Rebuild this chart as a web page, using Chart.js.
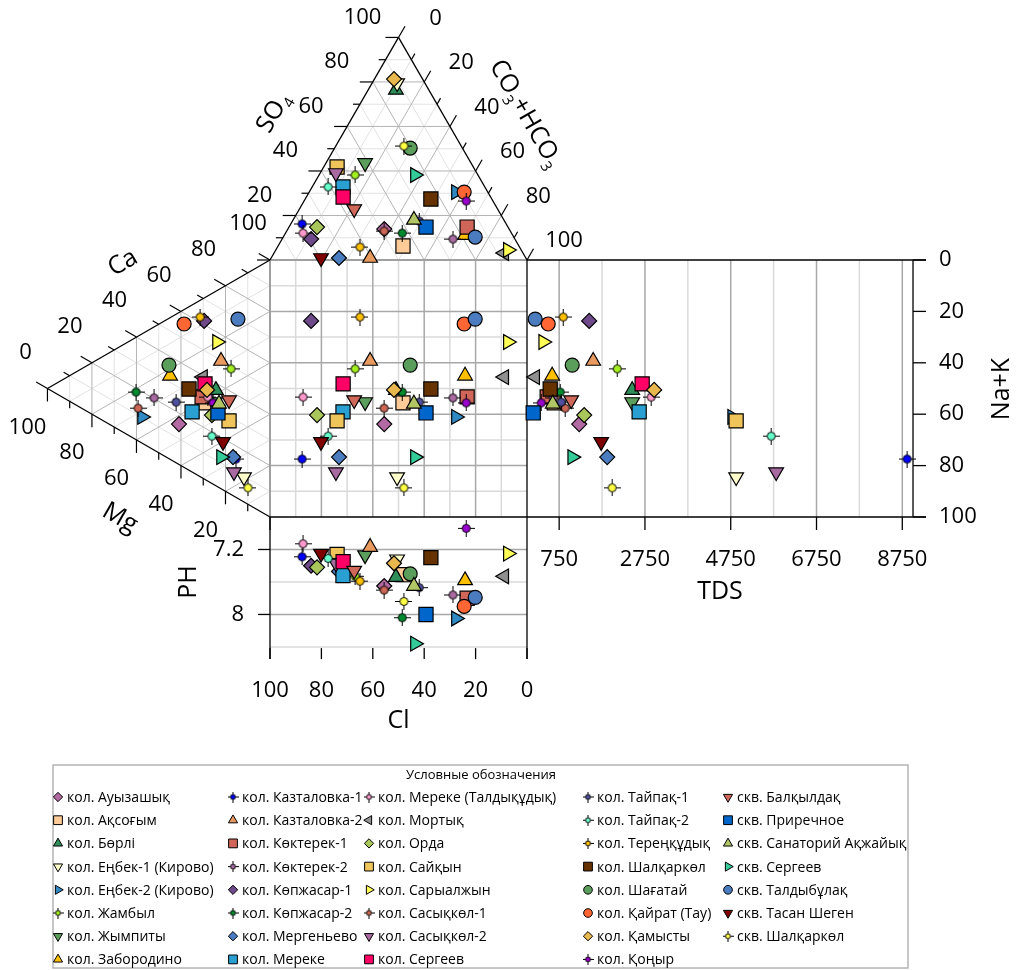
<!DOCTYPE html>
<html>
<head>
<meta charset="utf-8">
<script src="https://cdn.jsdelivr.net/npm/chart.js@4"></script>
<style>
  html, body { margin: 0; padding: 0; background: #fff; }
  canvas { display: block; }
</style>
</head>
<body>
<canvas id="durov" width="1020" height="970"></canvas>
<script>
// sampling points (legend order, column by column)
const names = [
  'кол. Ауызашық', 'кол. Ақсоғым', 'кол. Бөрлі', 'кол. Еңбек-1 (Кирово)', 'кол. Еңбек-2 (Кирово)',
  'кол. Жамбыл', 'кол. Жымпиты', 'кол. Заборoдино',
  'кол. Казталовка-1', 'кол. Казталовка-2', 'кол. Көктерек-1', 'кол. Көктерек-2', 'кол. Көпжасар-1',
  'кол. Көпжасар-2', 'кол. Мергеньево', 'кол. Мереке',
  'кол. Мереке (Талдықұдық)', 'кол. Мортық', 'кол. Орда', 'кол. Сайқын', 'кол. Сарыалжын',
  'кол. Сасықкөл-1', 'кол. Сасықкөл-2', 'кол. Сергеев',
  'кол. Тайпақ-1', 'кол. Тайпақ-2', 'кол. Тереңқұдық', 'кол. Шалқаркөл', 'кол. Шағатай',
  'кол. Қайрат (Тау)', 'кол. Қамысты', 'кол. Қоңыр',
  'скв. Балқылдақ', 'скв. Приречное', 'скв. Санаторий Ақжайық', 'скв. Сергеев', 'скв. Талдыбұлақ',
  'скв. Тасан Шеген', 'скв. Шалқаркөл'
];
// anions, % (Cl = 100 - SO4 - HCO3)
const so4 = [13.9, 6.3, 76.4, 79.5, 30.5, 38.2, 43.6, 11.2, 16.2, 0.9, 14.8, 9.4, 9.4, 12.1, 0.9, 32.8,
  12.1, 3.1, 14.8, 41.8, 4.5, 13.0, 39.1, 28.3, 17.5, 32.8, 5.8, 27.4, 50.3, 30.5, 81.3, 26.5,
  22.9, 14.8, 18.0, 38.2, 10.3, 0.9, 51.2];
const hco3 = [37.5, 48.6, 10.8, 9.7, 57.1, 14.0, 15.2, 70.3, 4.4, 38.5, 69.3, 66.5, 11.3, 45.4, 26.4, 12.0,
  6.8, 89.6, 10.9, 5.2, 90.3, 37.9, 6.1, 14.3, 49.3, 6.2, 32.1, 48.9, 29.4, 60.3, 7.6, 63.1,
  21.3, 53.3, 47.0, 37.3, 74.7, 19.4, 26.5];
// cations, % (Na+K = 100 - Ca - Mg)
const ca = [15.7, 29.8, 37.2, 9.7, 10.2, 48.9, 32.4, 32.5, 14.9, 49.7, 31.5, 20.3, 61.5, 18.5, 15.0, 23.4,
  32.7, 39.4, 26.6, 28.2, 56.2, 12.7, 9.4, 37.2, 23.6, 18.4, 62.1, 31.6, 36.4, 55.8, 35.3, 31.6,
  36.3, 28.8, 32.6, 12.3, 69.8, 18.7, 6.4];
const mg = [40.9, 29.2, 24.3, 11.7, 57.5, 17.5, 24.7, 44.9, 15.3, 22.0, 30.5, 52.1, 29.6, 60.2, 16.6, 35.0,
  27.9, 30.1, 26.1, 18.4, 23.8, 59.3, 16.2, 29.2, 42.2, 26.1, 31.4, 36.4, 45.4, 38.6, 28.3, 25.6,
  18.4, 23.4, 22.9, 22.0, 14.4, 21.1, 9.9];
const tds = [1217, 634, 2452, 4876, 4783, 2103, 2452, 587, 8862, 1543, 471, 611, 1450, 774, 1870, 2615,
  2895, 191, 1333, 4876, 378, 890, 5809, 2685, 797, 5692, 844, 541, 1054, 494, 2965, 331,
  1030, 145, 600, 1054, 191, 1730, 1986];
const ph = [7.65, 7.51, 7.54, 7.32, 8.05, 7.53, 7.27, 7.58, 7.29, 7.17, 7.80, 7.76, 7.40, 8.04, 7.47, 7.52,
  7.13, 7.53, 7.42, 7.26, 7.25, 7.70, 7.37, 7.35, 7.67, 7.31, 7.59, 7.30, 7.50, 7.90, 7.37, 6.94,
  7.46, 8.00, 7.65, 8.36, 7.79, 7.25, 7.84];

// tick labels
const clTicks = [100, 80, 60, 40, 20, 0];
const nakTicks = [0, 20, 40, 60, 80, 100];
const tdsTicks = [750, 2750, 4750, 6750, 8750];
const phTicks = [7.2, 8];
const so4Ticks = [20, 40, 60, 80, 100];
const co3Ticks = [0, 20, 40, 60, 80, 100];
const caTicks = [0, 20, 40, 60, 80, 100];
const mgTicks = [100, 80, 60, 40, 20];

// marker look
const kinds = ['diamond', 'square', 'triUp', 'triDown', 'triRight', 'cross', 'triDown', 'triUp',
  'cross', 'triUp', 'square', 'cross', 'diamond', 'cross', 'diamond', 'square',
  'cross', 'triLeft', 'diamond', 'square', 'triRight', 'cross', 'triDown', 'square',
  'cross', 'cross', 'cross', 'square', 'circle', 'circle', 'diamond', 'cross',
  'triDown', 'square', 'triUp', 'triRight', 'circle', 'triDown', 'cross'];
const colors = ['#B36AA3', '#FFCC99', '#2F8F5B', '#FFFFCC', '#2F8AC4', '#A4F01E', '#5C9E5C', '#FFC000',
  '#0000FF', '#E99A5E', '#D0665A', '#A86AA0', '#6E4A8A', '#008A2E', '#4A7CC0', '#2AA0D2',
  '#FF99CC', '#909090', '#A9C65A', '#EFC45A', '#FFFF55', '#CC6655', '#A86AA0', '#FF0066',
  '#5050A0', '#66FFCC', '#FFC000', '#663300', '#5B9E5B', '#FF6633', '#E8B84F', '#9900CC',
  '#D0685A', '#0066CC', '#B3C665', '#33CC99', '#4A7CBF', '#800000', '#FFFF44'];

const FONT = '"Open Sans", "Noto Sans", sans-serif';
// page layout: the Cl / Na+K square sits at (270,260), 257 px a side
const CW = 1020, CH = 970, SQ_L = 270, SQ_T = 260, SQ = 257;
const U = SQ / 100;                   // px per square unit
const H = 86.6;                       // triangle height, in square units
const TDS_MAX = 9000, TDS_W = 150.2;  // TDS panel width, square units
const PH_MIN = 6.8, PH_MAX = 8.55, PH_K = 31.6;

function topXY(s, h) { const c = 100 - s - h; return { x: c + s / 2, y: -s * H / 100 }; }
function leftXY(a, m) { const n = 100 - a - m; return { x: 100 + m * H / 100, y: n + m / 2 }; }
function tdsX(t) { return -t / TDS_MAX * TDS_W; }
function phY(p) { return 100 + (p - PH_MIN) * PH_K; }

function crossIcon(color, r, arm) {
  const c = document.createElement('canvas');
  const s = arm * 2 + 1;
  c.width = s; c.height = s;
  const g = c.getContext('2d');
  const m = s / 2;
  g.strokeStyle = '#000'; g.lineWidth = 1;
  g.beginPath(); g.moveTo(0, m); g.lineTo(s, m); g.moveTo(m, 0); g.lineTo(m, s); g.stroke();
  g.beginPath(); g.arc(m, m, r, 0, Math.PI * 2);
  g.fillStyle = color; g.fill(); g.stroke();
  return c;
}

function markerStyle(kind, color, k) {
  if (kind === 'cross') return { pointStyle: crossIcon(color, 4 * k, Math.round(8 * k)), radius: 5, rotation: 0 };
  const base = {
    diamond: ['rectRot', 7.5, 0], square: ['rect', 10, 0], circle: ['circle', 7, 0],
    triUp: ['triangle', 8.5, 0], triDown: ['triangle', 8.5, 180],
    triRight: ['triangle', 8.5, 90], triLeft: ['triangle', 8.5, 270]
  }[kind];
  return { pointStyle: base[0], radius: base[1] * k, rotation: base[2] };
}

const datasets = names.map((name, i) => {
  const cl = 100 - so4[i] - hco3[i];
  const nak = 100 - ca[i] - mg[i];
  const sx = cl + so4[i] / 2, sy = nak + mg[i] / 2;
  const st = markerStyle(kinds[i], colors[i], 1);
  return {
    label: name,
    data: [topXY(so4[i], hco3[i]), leftXY(ca[i], mg[i]), { x: sx, y: sy }, { x: tdsX(tds[i]), y: sy }, { x: sx, y: phY(ph[i]) }],
    pointStyle: st.pointStyle,
    pointRadius: st.radius,
    pointRotation: st.rotation,
    pointBackgroundColor: colors[i],
    pointBorderColor: '#000',
    pointBorderWidth: 1.2,
    showLine: false,
    clip: false,
    order: -i
  };
});

function seg(ctx, a, b, color, w) {
  ctx.beginPath(); ctx.strokeStyle = color; ctx.lineWidth = w;
  ctx.moveTo(a[0], a[1]); ctx.lineTo(b[0], b[1]); ctx.stroke();
}
function txt(ctx, s, x, y, size, align, angle) {
  ctx.save(); ctx.translate(x, y); ctx.rotate((angle || 0) * Math.PI / 180);
  ctx.font = size + 'px ' + FONT; ctx.textAlign = align || 'center'; ctx.textBaseline = 'middle';
  ctx.fillStyle = '#000'; ctx.fillText(s, 0, 0); ctx.restore();
}
function rich(ctx, parts, x, y, size, angle) {
  ctx.save(); ctx.translate(x, y); ctx.rotate(angle * Math.PI / 180);
  ctx.textAlign = 'left'; ctx.textBaseline = 'alphabetic'; ctx.fillStyle = '#000';
  const fonts = parts.map(p => (p[1] ? Math.round(size * 0.6) : size) + 'px ' + FONT);
  let w = 0;
  parts.forEach((p, k) => { ctx.font = fonts[k]; w += ctx.measureText(p[0]).width; });
  let cx = -w / 2;
  parts.forEach((p, k) => {
    ctx.font = fonts[k];
    ctx.fillText(p[0], cx, size * 0.36 + (p[1] ? size * 0.24 : 0));
    cx += ctx.measureText(p[0]).width;
  });
  ctx.restore();
}

const MAJOR = '#B4B4B4', MINOR = '#E2E2E2';

const durovFrame = {
  id: 'durovFrame',
  beforeDatasetsDraw(chart) {
    const ctx = chart.ctx;
    const xs = chart.scales.x, ys = chart.scales.y;
    const P = (u, v) => [xs.getPixelForValue(u), ys.getPixelForValue(v)];
    const T = (s, h) => { const q = topXY(s, h); return P(q.x, q.y); };
    const L = (a, m) => { const q = leftXY(a, m); return P(q.x, q.y); };
    ctx.save();
    ctx.lineCap = 'butt';

    // grids, minor first
    [false, true].forEach(major => {
      const col = major ? MAJOR : MINOR;
      const sq = major ? '#A8A8A8' : '#DADADA';
      for (let k = 10; k < 100; k += 10) {
        if ((k % 20 === 0) !== major) continue;
        // anion triangle
        seg(ctx, T(k, 0), T(k, 100 - k), col, 1);
        seg(ctx, T(0, k), T(100 - k, k), col, 1);
        seg(ctx, T(0, 100 - k), T(100 - k, 0), col, 1);
        // cation triangle
        seg(ctx, L(k, 0), L(k, 100 - k), col, 1);
        seg(ctx, L(0, k), L(100 - k, k), col, 1);
        seg(ctx, L(100 - k, 0), L(0, 100 - k), col, 1);
        // square
        seg(ctx, P(k, 0), P(k, 100), sq, 1.5);
        seg(ctx, P(0, k), P(100, k), sq, 1.5);
      }
      // TDS verticals
      for (let t = 750, j = 0; t < TDS_MAX; t += 1000, j++) {
        if ((j % 2 === 0) !== major) continue;
        seg(ctx, P(tdsX(t), 0), P(tdsX(t), 100), sq, 1.5);
      }
      // pH horizontals
      [7.2, 7.6, 8.0, 8.4].forEach((p, j) => {
        if ((j % 2 === 0) !== major) return;
        seg(ctx, P(100, phY(p)), P(0, phY(p)), sq, 1.5);
      });
    });

    // frames
    const K = '#000';
    seg(ctx, P(100, 0), P(0, 0), '#A0A0A0', 2);
    seg(ctx, P(100, 0), P(100, 100), '#A0A0A0', 2);
    seg(ctx, T(100, 0), T(0, 0), K, 1.3);
    seg(ctx, T(100, 0), T(0, 100), K, 1.3);
    seg(ctx, L(100, 0), L(0, 100), K, 1.3);
    seg(ctx, L(0, 100), L(0, 0), K, 1.3);
    const xr = P(tdsX(TDS_MAX), 0)[0];
    seg(ctx, P(0, 0), [xr + 13, P(0, 0)[1]], K, 1.3);
    seg(ctx, P(100, 100), [xr + 13, P(0, 100)[1]], K, 1.3);
    seg(ctx, P(0, 0), P(0, phY(PH_MAX)), K, 1.3);
    seg(ctx, P(100, 100), P(100, phY(PH_MAX)), K, 1.3);
    seg(ctx, [xr, P(0, 0)[1]], [xr, P(0, 100)[1]], K, 1.3);

    // ternary ticks
    for (let k = 0; k <= 100; k += 10) {
      const len = k % 20 === 0 ? 13 : 7;
      let b = T(k, 0); seg(ctx, b, [b[0] - len, b[1]], K, 1.2);
      b = T(100 - k, k); seg(ctx, b, [b[0] + len * 0.5, b[1] - len * 0.866], K, 1.2);
      b = L(k, 100 - k); seg(ctx, b, [b[0] - len * 0.866, b[1] - len * 0.5], K, 1.2);
      b = L(0, k); seg(ctx, b, [b[0], b[1] + len], K, 1.2);
    }
    // right axis ticks, TDS ticks, pH ticks, Cl ticks
    nakTicks.forEach(v => { const y = P(0, v)[1]; seg(ctx, [xr, y], [xr + 13, y], K, 1.3); });
    tdsTicks.forEach(t => { const b = P(tdsX(t), 100); seg(ctx, b, [b[0], b[1] + 13], K, 1.3); });
    phTicks.forEach(p => { const b = P(100, phY(p)); seg(ctx, b, [b[0] - 12, b[1]], K, 1.3); });
    clTicks.forEach(c => { const b = P(c, phY(PH_MAX)); seg(ctx, b, [b[0], b[1] - 11], K, 1.3); });

    // tick labels
    const F = 22;
    so4Ticks.forEach(s => { const b = T(s, 0); txt(ctx, String(s), b[0] - 36, b[1] - 20, F); });
    co3Ticks.forEach(h => { const b = T(100 - h, h); txt(ctx, String(h), b[0] + 37, b[1] - 19, F); });
    caTicks.forEach(a => { const b = L(a, 100 - a); txt(ctx, String(a), b[0] - 22, b[1] - 36, F); });
    mgTicks.forEach(m => { const b = L(0, m); txt(ctx, String(m), b[0] - 20, b[1] + 39, F); });
    nakTicks.forEach(v => txt(ctx, String(v), xr + 26, P(0, v)[1], F, 'left'));
    tdsTicks.forEach(t => txt(ctx, String(t), P(tdsX(t), 0)[0], P(0, 100)[1] + 43, F));
    phTicks.forEach(p => txt(ctx, String(p), P(100, 0)[0] - 26, P(0, phY(p))[1], F, 'right'));
    clTicks.forEach(c => txt(ctx, String(c), P(c, 0)[0], P(0, phY(PH_MAX))[1] + 32, F));

    // axis titles
    const A = 25;
    rich(ctx, [['SO', 0], ['4', 1]], 272, 112, A, -60);
    rich(ctx, [['CO', 0], ['3', 1], ['+HCO', 0], ['3', 1]], 527, 113, A, 60);
    txt(ctx, 'Ca', 123, 263, A, 'center', -30);
    txt(ctx, 'Mg', 120, 518, A, 'center', 30);
    txt(ctx, 'Na+K', 1002, 389, A, 'center', -90);
    txt(ctx, 'PH', 189, 582, A, 'center', -90);
    txt(ctx, 'Cl', P(50, 0)[0], 721, A);
    txt(ctx, 'TDS', P(tdsX(TDS_MAX / 2), 0)[0], 592, A);
    ctx.restore();
  },
  afterDraw(chart) {
    const ctx = chart.ctx;
    ctx.save();
    ctx.strokeStyle = '#B4B4B4'; ctx.lineWidth = 1.5;
    ctx.strokeRect(53, 765, 855, 203);
    txt(ctx, 'Условные обозначения', 481, 775, 13);
    const colX = [58, 233, 369, 588, 728];
    names.forEach((name, i) => {
      const col = Math.floor(i / 8), row = i % 8;
      const x = colX[col], y = 797 + row * 23.2;
      const st = markerStyle(kinds[i], colors[i], 0.62);
      ctx.fillStyle = colors[i]; ctx.strokeStyle = '#000'; ctx.lineWidth = 1;
      Chart.helpers.drawPoint(ctx, { pointStyle: st.pointStyle, rotation: st.rotation, radius: st.radius, borderWidth: 1 }, x, y);
      txt(ctx, name, x + 9, y + 1, 14, 'left');
    });
    ctx.restore();
  }
};

// scales span the whole canvas, in square units, so marks outside the square are drawn too
new Chart(document.getElementById('durov').getContext('2d'), {
  type: 'scatter',
  data: { datasets },
  options: {
    responsive: false,
    animation: false,
    events: [],
    layout: { padding: 0, autoPadding: false },
    scales: {
      x: { type: 'linear', reverse: true, display: false, max: 100 + SQ_L / U, min: 100 + SQ_L / U - CW / U },
      y: { type: 'linear', reverse: true, display: false, min: -SQ_T / U, max: -SQ_T / U + CH / U }
    },
    plugins: { legend: { display: false }, tooltip: { enabled: false } }
  },
  plugins: [durovFrame]
});
</script>
</body>
</html>
